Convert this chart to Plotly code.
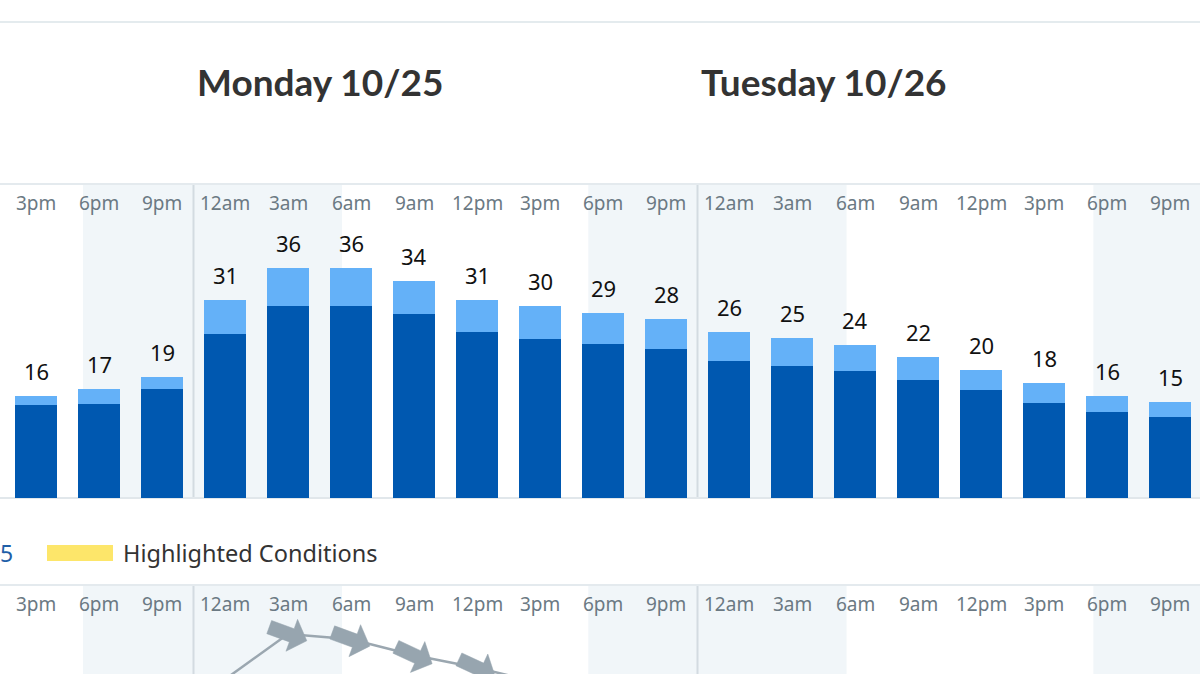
import math
import plotly.graph_objects as go

# ---------------- data ----------------
times = ["3pm", "6pm", "9pm", "12am", "3am", "6am", "9am", "12pm", "3pm", "6pm",
         "9pm", "12am", "3am", "6am", "9am", "12pm", "3pm", "6pm", "9pm"]
wind = [14.6, 14.7, 17.1, 25.7, 30.0, 30.0, 28.8, 26.0, 24.9, 24.1,
        23.3, 21.4, 20.7, 19.8, 18.5, 16.9, 14.8, 13.4, 12.6]
gust = [16, 17, 19, 31, 36, 36, 34, 31, 30, 29,
        28, 26, 25, 24, 22, 20, 18, 16, 15]
day_titles = ["Monday 10/25", "Tuesday 10/26"]
day_start = [3, 11]                      # slot index where each day begins
night_start_h = [2.24, 26.3, 50.35]      # hours after first slot
night_end_h = [14.57, 38.6, 57.0]
lower_idx = [3, 4, 5, 6, 7, 8]
lower_val = [-0.6, 4.5, 3.9, 2.1, 0.7, -1.0]
arrow_bearing = [None, 110, 110, 115, 115, None]   # degrees, direction arrow points to
legend_label = "Highlighted Conditions"
cut_label = "5"

# ---------------- helpers ----------------
W, H = 1200, 674
def PX(x):
    return x / W
def PY(y):
    return (H - y) / H

SLOT = 63.0
X0 = 36.0
xr = [(0 - X0) / SLOT, (W - X0) / SLOT]
Y2_RANGE = [0, 10]
Y2_PX = 89.0 / (Y2_RANGE[1] - Y2_RANGE[0])

idx = list(range(len(times)))
gust_extra = [g - w for g, w in zip(gust, wind)]

fig = go.Figure()
fig.add_trace(go.Bar(x=idx, y=wind, width=0.66, marker=dict(color="#0058b0", line_width=0),
                     hoverinfo="skip"))
fig.add_trace(go.Bar(x=idx, y=gust_extra, width=0.66, marker=dict(color="#64b1f8", line_width=0),
                     hoverinfo="skip"))
fig.add_trace(go.Scatter(x=lower_idx, y=lower_val, yaxis="y2", mode="lines",
                         line=dict(color="#9ba7b0", width=2.5), hoverinfo="skip"))

# block arrows centred on the points, pointing along the bearing
arrow_local = [(-20, -7), (4, -7), (4, -17), (20, 0), (4, 17), (4, 7), (-20, 7), (-20, -7)]
for xi, v, b in zip(lower_idx, lower_val, arrow_bearing):
    if b is None:
        continue
    a = math.radians(b - 90)
    ca, sa = math.cos(a), math.sin(a)
    xs, ys = [], []
    for u, w in arrow_local:
        dxp = u * ca - w * sa
        dyp = u * sa + w * ca
        xs.append(xi + dxp / SLOT)
        ys.append(v - dyp / Y2_PX)
    fig.add_trace(go.Scatter(x=xs, y=ys, yaxis="y2", mode="lines", fill="toself",
                             fillcolor="#97a5af", line=dict(width=0.5, color="#97a5af"),
                             hoverinfo="skip"))

shapes = []
top_y0, top_y1 = PY(498), PY(184)
low_y0, low_y1 = 0, PY(585)
night_fill = "#f1f6f9"
for s, e in zip(night_start_h, night_end_h):
    for (a, b) in [(top_y0, top_y1), (low_y0, low_y1)]:
        shapes.append(dict(type="rect", xref="x", yref="paper", x0=s / 3, x1=e / 3,
                           y0=a, y1=b, fillcolor=night_fill, line_width=0, layer="below"))
for d in day_start:
    for (a, b) in [(top_y0, top_y1), (low_y0, low_y1)]:
        shapes.append(dict(type="line", xref="x", yref="paper", x0=d - 0.5, x1=d - 0.5,
                           y0=a, y1=b, line=dict(color="#d3dbe1", width=2), layer="below"))
for yy, col in [(22, "#e4ebee"), (184, "#e4eaee"), (498, "#e1e7eb"), (585, "#e4eaee")]:
    shapes.append(dict(type="line", xref="paper", yref="paper", x0=0, x1=1,
                       y0=PY(yy), y1=PY(yy), line=dict(color=col, width=2), layer="below"))
# legend swatch
shapes.append(dict(type="rect", xref="paper", yref="paper", x0=PX(47), x1=PX(113),
                   y0=PY(561), y1=PY(545), fillcolor="#fde66a", line_width=0))

ann = []
tick_font = dict(family="Noto Sans", size=19, color="#6b7983")
for i, t in enumerate(times):
    for yy in (203, 604):
        ann.append(dict(x=i, xref="x", y=PY(yy), yref="paper", text=t, showarrow=False,
                        xanchor="center", yanchor="middle", font=tick_font))
    ann.append(dict(x=i, xref="x", y=gust[i], yref="y", text=str(gust[i]), showarrow=False,
                    xanchor="center", yanchor="bottom", yshift=8,
                    font=dict(family="Noto Sans", size=22, color="#111111")))
for title, d in zip(day_titles, day_start):
    ann.append(dict(x=d + 1.5, xref="x", y=PY(82), yref="paper", text="<b>%s</b>" % title,
                    showarrow=False, xanchor="center", yanchor="middle",
                    font=dict(family="Lato", size=37, color="#333333")))
ann.append(dict(x=PX(121), xref="paper", y=PY(553), yref="paper", text=legend_label,
                showarrow=False, xanchor="left", yanchor="middle",
                font=dict(family="Noto Sans", size=23.5, color="#333333")))
ann.append(dict(x=0, xref="paper", y=PY(553), yref="paper", text=cut_label,
                showarrow=False, xanchor="left", yanchor="middle", xshift=-2,
                font=dict(family="Noto Sans", size=23, color="#1f5fa8")))

fig.update_layout(
    width=W, height=H, margin=dict(l=0, r=0, t=0, b=0),
    paper_bgcolor="white", plot_bgcolor="rgba(0,0,0,0)",
    barmode="stack", showlegend=False, bargap=0,
    xaxis=dict(range=xr, visible=False, fixedrange=True),
    yaxis=dict(domain=[top_y0, top_y1], range=[0, (498 - 184) / 6.39], visible=False),
    yaxis2=dict(domain=[0, low_y1], range=Y2_RANGE, visible=False),
    shapes=shapes, annotations=ann,
)
fig.write_html("out.html")
